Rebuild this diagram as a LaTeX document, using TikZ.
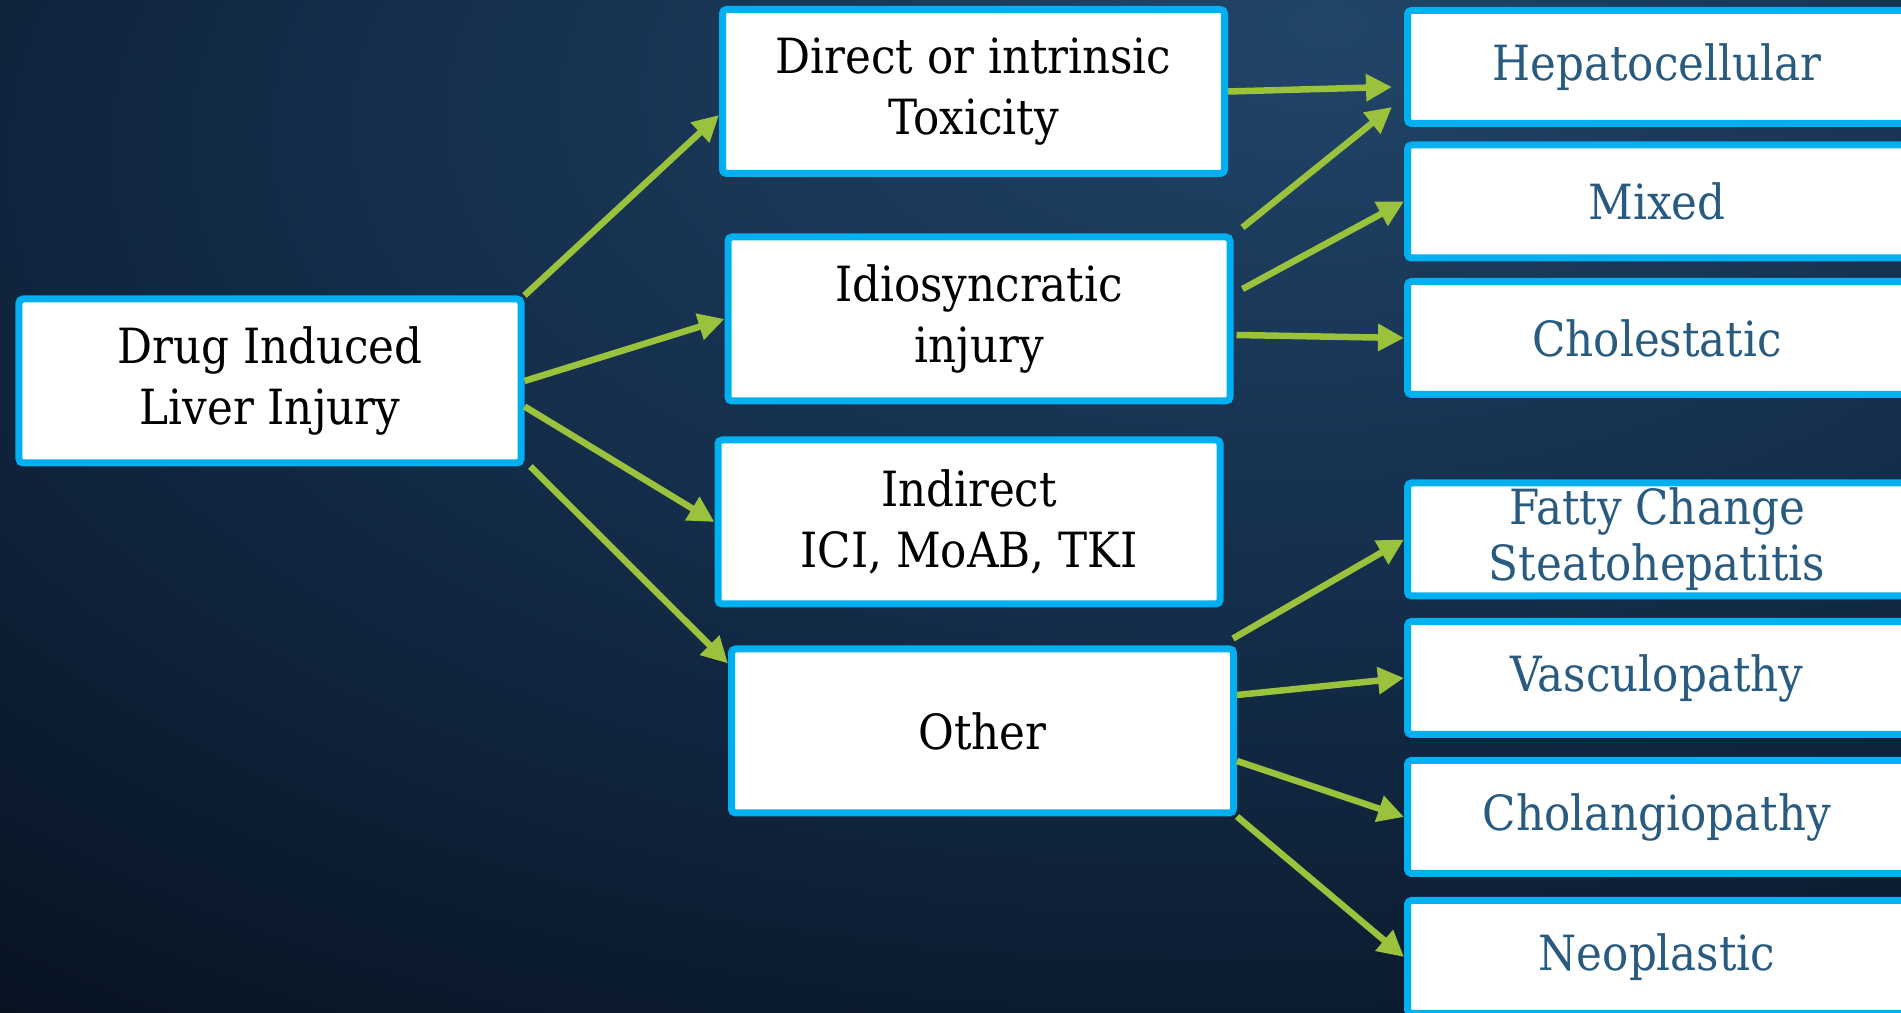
\documentclass[tikz,border=0pt]{standalone}
\usepackage{fontspec}
\setmainfont{DejaVu Serif Condensed}
\usepackage{tikz}
\usetikzlibrary{arrows.meta}

\definecolor{boxblue}{RGB}{0,176,240}
\definecolor{arrgreen}{RGB}{155,194,60}
\definecolor{txtblue}{RGB}{41,91,129}
\definecolor{bgin}{RGB}{33,69,105}
\definecolor{bgmid}{RGB}{20,45,74}
\definecolor{bgout}{RGB}{6,16,29}
\pgfdeclareradialshading{bgglow}{\pgfpoint{10bp}{24bp}}{color(0bp)=(bgin); color(24bp)=(bgmid); color(52bp)=(bgout); color(110bp)=(bgout)}

\tikzset{
	box/.style = {draw = boxblue, line width = 0.07cm, fill = white, rounded corners = 0.04cm, align = center, inner sep = 0pt, minimum width = 5.02cm, minimum height = 1.64cm, font = \fontsize{13.8}{17.2}\selectfont},
	leaf/.style = {box, text = txtblue, minimum width = 4.99cm, minimum height = 1.13cm, font = \fontsize{13.8}{16}\selectfont},
	conn/.style = {-{Triangle[length = 0.26cm, width = 0.26cm]}, line width = 0.065cm, arrgreen}
}

\begin{document}
\begin{tikzpicture}
	\useasboundingbox (0,0) rectangle (19.01,10.13);
	\clip (0,0) rectangle (19.01,10.13);
	\shade [shading = bgglow] (0,0) rectangle (19.01,10.13);

	\node [box] (dili) at (2.70,6.32) {Drug Induced\\Liver Injury};
	\node [box] (direct) at (9.735,9.215) {Direct or intrinsic\\Toxicity};
	\node [box] (idio) at (9.79,6.94) {Idiosyncratic\\injury};
	\node [box] (indirect) at (9.69,4.91) {Indirect\\ICI, MoAB, TKI};
	\node [box] (other) at (9.825,2.82) {Other};

	\node [leaf] (hepato) at (16.57,9.46) {Hepatocellular};
	\node [leaf] (mixed) at (16.57,8.115) {Mixed};
	\node [leaf] (cholest) at (16.57,6.75) {Cholestatic};
	\node [leaf] (fatty) at (16.57,4.735) {Fatty Change\\Steatohepatitis};
	\node [leaf] (vasculo) at (16.57,3.35) {Vasculopathy};
	\node [leaf] (cholang) at (16.57,1.96) {Cholangiopathy};
	\node [leaf] (neo) at (16.57,0.56) {Neoplastic};

	\draw[conn] (dili.north east) to ([yshift=-0.235cm]direct.west) ;
	\draw[conn] (dili.east) to (idio.west) ;
	\draw[conn] ([yshift=-0.255cm]dili.east) to (indirect.west) ;
	\draw[conn] ([xshift=0.06cm]dili.south east) to ([yshift=-0.18cm]other.north west) ;

	\draw[conn] (direct.east) to ([shift={(-0.12,-0.2)}]hepato.west) ;
	\draw[conn] ([shift={(0.09,0.06)}]idio.north east) to ([shift={(-0.12,0.2)}]hepato.south west) ;
	\draw[conn] ([shift={(0.09,0.3)}]idio.east) to (mixed.west) ;
	\draw[conn] ([shift={(0.03,-0.16)}]idio.east) to (cholest.west) ;

	\draw[conn] ([shift={(-0.04,0.07)}]other.north east) to (fatty.west) ;
	\draw[conn] ([yshift=0.36cm]other.east) to (vasculo.west) ;
	\draw[conn] ([yshift=-0.3cm]other.east) to (cholang.west) ;
	\draw[conn] (other.south east) to (neo.west) ;
\end{tikzpicture}
\end{document}
